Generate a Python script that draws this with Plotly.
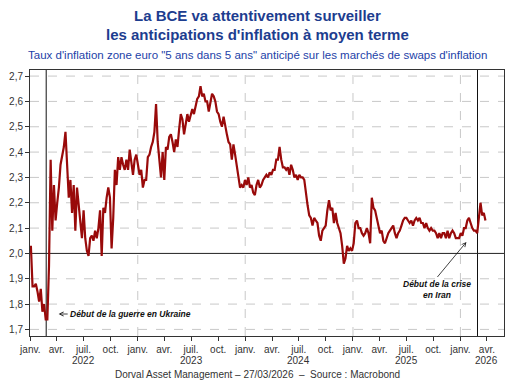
import pandas as pd
import plotly.graph_objects as go

# ---- data ----
START_DATE = "2022-01-03"
END_DATE = "2026-03-27"

values_2022 = [2.03, 1.87, 1.87, 1.88, 1.85, 1.81, 1.86, 1.77, 1.80, 1.74, 1.74, 1.95,
               2.37, 2.09, 2.27, 2.13, 2.20, 2.26, 2.35, 2.38, 2.42, 2.48, 2.36, 2.22,
               2.29, 2.16, 2.27, 2.09, 2.26, 2.19, 2.12, 2.06, 2.17, 2.06, 2.01, 1.99,
               2.06, 2.07, 2.05, 2.09, 2.06, 2.10, 2.17, 1.99, 2.18, 2.16, 2.22, 2.26,
               2.22, 2.02, 2.14, 2.33, 2.27, 2.38, 2.33, 2.38, 2.35]
values_2023 = [2.33, 2.37, 2.33, 2.41, 2.36, 2.31, 2.37, 2.39, 2.35, 2.31, 2.33, 2.26,
               2.29, 2.29, 2.38, 2.39, 2.42, 2.44, 2.48, 2.59, 2.44, 2.37, 2.30, 2.40,
               2.29, 2.42, 2.41, 2.46, 2.47, 2.44, 2.40, 2.45, 2.42, 2.49, 2.55, 2.53,
               2.47, 2.51, 2.55, 2.52, 2.55, 2.57, 2.55, 2.58, 2.61, 2.62, 2.66, 2.62,
               2.63, 2.60, 2.60, 2.56, 2.60, 2.63, 2.62, 2.60, 2.56]
values_2024 = [2.55, 2.52, 2.50, 2.54, 2.50, 2.47, 2.44, 2.43, 2.37, 2.43, 2.39, 2.34,
               2.31, 2.26, 2.27, 2.26, 2.29, 2.27, 2.30, 2.26, 2.27, 2.24, 2.23, 2.27,
               2.29, 2.26, 2.27, 2.29, 2.30, 2.31, 2.30, 2.32, 2.31, 2.33, 2.33, 2.37,
               2.37, 2.42, 2.37, 2.34, 2.34, 2.33, 2.34, 2.31, 2.35, 2.33, 2.30, 2.31,
               2.29, 2.31, 2.30, 2.30, 2.29, 2.23, 2.19, 2.15, 2.14, 2.11]
values_2025 = [2.14, 2.13, 2.12, 2.07, 2.05, 2.09, 2.10, 2.11, 2.17, 2.21, 2.17, 2.18,
               2.12, 2.16, 2.12, 2.10, 2.08, 2.03, 1.96, 1.98, 2.03, 2.01, 2.02, 2.01,
               2.04, 2.12, 2.13, 2.10, 2.10, 2.08, 2.07, 2.08, 2.10, 2.08, 2.04, 2.22,
               2.18, 2.17, 2.14, 2.10, 2.08, 2.09, 2.05, 2.04, 2.06, 2.08, 2.09, 2.10,
               2.11, 2.08, 2.06, 2.08, 2.09, 2.11, 2.13, 2.14, 2.14, 2.13]
values_2026 = [2.12, 2.13, 2.11, 2.13, 2.14, 2.13, 2.14, 2.12, 2.12, 2.10, 2.12, 2.10,
               2.09, 2.10, 2.09, 2.09, 2.08, 2.06, 2.08, 2.06, 2.08, 2.08, 2.06, 2.09,
               2.06, 2.08, 2.09, 2.08, 2.06, 2.06, 2.06, 2.08, 2.07, 2.10, 2.10, 2.13,
               2.14, 2.12, 2.10, 2.09, 2.09, 2.08, 2.14, 2.20, 2.15, 2.16, 2.13]

series_values = values_2022 + values_2023 + values_2024 + values_2025 + values_2026
dates = pd.date_range(START_DATE, END_DATE, periods=len(series_values))

years = [2022, 2023, 2024, 2025, 2026]
month_labels = ["janv.", "avr.", "juil.", "oct."]
quarter_months = [1, 4, 7, 10]
y_ticks = [1.7, 1.8, 1.9, 2.0, 2.1, 2.2, 2.3, 2.4, 2.5, 2.6, 2.7]
event_dates = ["2022-02-24", "2026-02-28"]
reference_level = 2.0
last_tick = pd.Timestamp("2026-04-01")

tick_dates = []
tick_text = []
for yr in years:
    for m, lab in zip(quarter_months, month_labels):
        d = pd.Timestamp(year=yr, month=m, day=1)
        if d <= last_tick:
            tick_dates.append(d)
            tick_text.append(lab)

FONT = "Liberation Sans, Arial, sans-serif"
RED = "#990a0a"
INK = "#333333"
GRID = dict(color="#c8c8c8", width=1, dash="dash")

fig = go.Figure()
fig.add_trace(go.Scatter(x=dates, y=series_values, mode="lines",
                         line=dict(color=RED, width=2.2), showlegend=False,
                         hoverinfo="skip"))

# dashed gridlines (horizontal at every tick but the reference level, vertical at January)
for v in y_ticks:
    if abs(v - reference_level) > 1e-9:
        fig.add_hline(y=v, line=GRID, layer="below")
for yr in years[1:]:
    fig.add_vline(x=pd.Timestamp(year=yr, month=1, day=1).timestamp() * 1000,
                  line=GRID, layer="below")
# event lines and reference level
for d in event_dates:
    fig.add_vline(x=pd.Timestamp(d).timestamp() * 1000,
                  line=dict(color="#111111", width=1), layer="below")
fig.add_hline(y=reference_level, line=dict(color="#222222", width=1), layer="below")

fig.update_layout(
    width=514, height=382,
    margin=dict(l=26, r=9, t=70, b=46),
    paper_bgcolor="white", plot_bgcolor="white",
    separators=", ",
    font=dict(family=FONT, size=10, color=INK),
    showlegend=False,
)

fig.update_xaxes(
    type="date", range=["2021-12-31", "2026-05-29"],
    tickvals=tick_dates, ticktext=tick_text,
    ticks="outside", ticklen=4, tickcolor=INK,
    showgrid=False, showline=True, linecolor=INK, linewidth=1, mirror=True,
    tickfont=dict(size=10, color=INK), zeroline=False,
)
fig.update_yaxes(
    range=[1.674, 2.724], tickvals=y_ticks,
    tickformat=".1f",
    ticks="outside", ticklen=4, tickcolor=INK,
    showgrid=False,
    showline=True, linecolor=INK, linewidth=1, mirror=True,
    tickfont=dict(size=10, color=INK), zeroline=False,
)

# year labels under juil. (avr. for the last, partial year)
for yr in years:
    xpos = pd.Timestamp(year=yr, month=7, day=1) if yr < 2026 else pd.Timestamp(year=yr, month=4, day=1)
    fig.add_annotation(x=xpos, xref="x", y=0, yref="paper", yshift=-24, yanchor="middle",
                       text=str(yr), showarrow=False,
                       font=dict(family=FONT, size=10, color=INK))

# titles
fig.add_annotation(x=0.48, xref="paper", y=1, yref="paper", yshift=55, yanchor="middle",
                   xanchor="center", showarrow=False,
                   text="<b>La BCE va attentivement surveiller</b>",
                   font=dict(family=FONT, size=15, color="#1d3d8f"))
fig.add_annotation(x=0.48, xref="paper", y=1, yref="paper", yshift=36, yanchor="middle",
                   xanchor="center", showarrow=False,
                   text="<b>les anticipations d'inflation à moyen terme</b>",
                   font=dict(family=FONT, size=15, color="#1d3d8f"))
fig.add_annotation(x=0.48, xref="paper", y=1, yref="paper", yshift=15, yanchor="middle",
                   xanchor="center", showarrow=False,
                   text="Taux d'inflation zone euro \"5 ans dans 5 ans\" anticipé sur les marchés de swaps d'inflation",
                   font=dict(family=FONT, size=11.5, color="#2342a8"))
fig.add_annotation(x=0.48, xref="paper", y=0, yref="paper", yshift=-38, yanchor="middle",
                   xanchor="center", showarrow=False,
                   text="Dorval Asset Management – 27/03/2026  –  Source : Macrobond",
                   font=dict(family=FONT, size=10, color=INK))

# event annotations
fig.add_annotation(x=0.0605, xref="paper", y=0.0827, yref="paper",
                   ax=9, ay=0, xanchor="left", yanchor="middle",
                   showarrow=True, arrowhead=5, arrowsize=1, arrowwidth=0.8, arrowcolor="#111111",
                   text="<b><i>Début de la guerre en Ukraine</i></b>",
                   font=dict(family=FONT, size=8.5, color="#111111"))
fig.add_annotation(x=0.9207, xref="paper", y=0.3534, yref="paper",
                   ax=-29, ay=35, xanchor="center", yanchor="top",
                   showarrow=True, arrowhead=5, arrowsize=1, arrowwidth=0.8, arrowcolor="#111111",
                   text="<b><i>Début de la crise<br>en Iran</i></b>",
                   font=dict(family=FONT, size=8.5, color="#111111"))

fig.write_html("out.html", config={"displayModeBar": False},
               post_script="document.body.style.margin='0';")
